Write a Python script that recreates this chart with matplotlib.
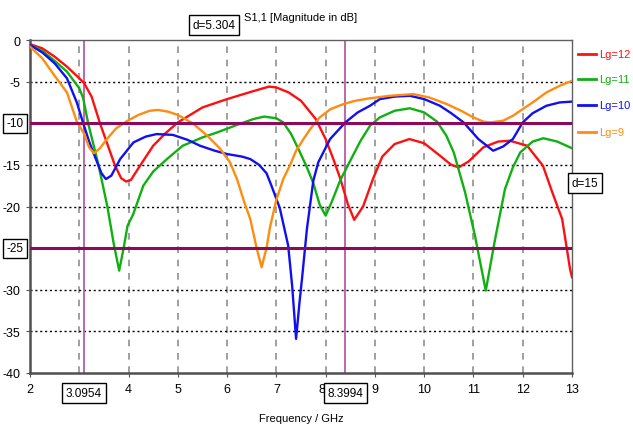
import matplotlib
matplotlib.use('Agg')
import matplotlib.pyplot as plt
from matplotlib.lines import Line2D

plt.rcParams['font.family'] = ['Liberation Sans', 'DejaVu Sans']

# ---- data (frequency in GHz, |S11| in dB) ----
f_lg12 = [2.0, 2.25, 2.5, 2.75, 3.0, 3.1, 3.25, 3.42, 3.6, 3.72, 3.85, 3.95, 4.05, 4.2,
          4.5, 4.75, 5.0, 5.5, 6.0, 6.5, 6.85, 7.0, 7.25, 7.5, 7.8, 8.0, 8.15, 8.3, 8.45,
          8.58, 8.76, 8.96, 9.15, 9.4, 9.7, 10.0, 10.3, 10.55, 10.7, 10.9, 11.2, 11.5,
          11.74, 12.09, 12.41, 12.6, 12.8, 12.96, 13.0]
s_lg12 = [-0.5, -1.0, -2.0, -3.2, -4.6, -5.2, -6.8, -10.0, -13.0, -15.0, -16.6, -17.0,
          -16.8, -15.4, -12.7, -11.2, -9.9, -8.1, -7.1, -6.2, -5.6, -5.7, -6.3, -7.3,
          -9.5, -11.9, -14.2, -16.7, -19.7, -21.6, -20.0, -16.7, -14.0, -12.5, -11.9,
          -12.4, -13.8, -15.0, -15.3, -14.6, -12.9, -12.2, -12.1, -12.7, -15.1, -18.3,
          -21.5, -27.5, -28.5]

f_lg11 = [2.0, 2.25, 2.5, 2.75, 3.0, 3.08, 3.18, 3.39, 3.57, 3.7, 3.81, 3.9, 3.98, 4.09,
          4.3, 4.5, 4.78, 5.1, 5.5, 5.8, 6.2, 6.53, 6.75, 7.0, 7.14, 7.3, 7.48, 7.62,
          7.75, 7.88, 8.0, 8.12, 8.3, 8.5, 8.7, 8.9, 9.1, 9.4, 9.71, 10.0, 10.26, 10.45,
          10.6, 10.83, 11.03, 11.25, 11.44, 11.64, 11.8, 11.95, 12.2, 12.42, 12.7, 13.0]
s_lg11 = [-0.6, -1.3, -2.5, -3.8, -5.8, -7.0, -10.0, -15.0, -20.0, -24.5, -27.7, -25.0,
          -22.3, -21.0, -17.5, -15.8, -14.3, -12.7, -11.7, -11.1, -10.2, -9.5, -9.2,
          -9.4, -9.9, -11.3, -13.5, -15.3, -17.2, -19.8, -21.1, -19.5, -16.8, -14.5,
          -12.2, -10.3, -9.3, -8.5, -8.2, -8.7, -9.8, -11.5, -13.5, -18.3, -23.5, -30.1,
          -23.9, -17.9, -15.3, -13.5, -12.2, -11.8, -12.2, -13.0]

f_lg10 = [2.0, 2.25, 2.5, 2.75, 2.95, 3.08, 3.2, 3.35, 3.45, 3.54, 3.65, 3.83, 4.1,
          4.35, 4.57, 4.9, 5.2, 5.45, 5.75, 6.0, 6.3, 6.47, 6.65, 6.8, 6.9, 7.07, 7.24,
          7.32, 7.4, 7.47, 7.52, 7.62, 7.75, 7.85, 8.09, 8.4, 8.65, 8.9, 9.1, 9.4, 9.71,
          10.0, 10.32, 10.55, 10.8, 11.1, 11.4, 11.6, 11.8, 12.0, 12.2, 12.48, 12.75, 13.0]
s_lg10 = [-0.6, -1.5, -2.8, -4.6, -7.5, -10.0, -12.2, -14.5, -16.0, -16.7, -16.3, -14.3,
          -12.3, -11.6, -11.3, -11.4, -12.0, -12.7, -13.3, -13.7, -14.0, -14.3, -15.0,
          -16.0, -17.5, -20.2, -24.7, -29.5, -35.9, -31.5, -28.7, -22.7, -16.9, -14.7,
          -11.9, -9.9, -8.7, -7.9, -7.1, -6.8, -6.7, -7.1, -7.9, -8.8, -9.9, -11.9,
          -13.3, -12.8, -11.9, -9.9, -8.8, -7.9, -7.5, -7.4]

f_lg9 = [2.0, 2.25, 2.5, 2.75, 2.95, 3.1, 3.2, 3.3, 3.42, 3.56, 3.75, 3.98, 4.2, 4.43,
         4.6, 4.8, 5.0, 5.3, 5.6, 5.85, 6.06, 6.2, 6.35, 6.47, 6.6, 6.7, 6.8, 6.87, 7.0,
         7.14, 7.28, 7.4, 7.55, 7.7, 7.88, 8.1, 8.36, 8.6, 8.9, 9.3, 9.78, 10.1, 10.46,
         10.75, 11.0, 11.2, 11.34, 11.6, 11.8, 12.0, 12.25, 12.48, 12.75, 13.0]
s_lg9 = [-0.8, -2.2, -4.3, -6.3, -9.8, -11.3, -12.9, -13.6, -13.0, -11.9, -10.6, -9.7,
         -9.0, -8.5, -8.4, -8.6, -9.0, -10.0, -11.5, -13.0, -14.7, -16.7, -19.5, -21.5,
         -25.0, -27.3, -25.0, -22.5, -19.2, -16.7, -15.0, -13.3, -11.9, -10.6, -9.3,
         -8.3, -7.7, -7.3, -7.0, -6.7, -6.5, -6.9, -7.7, -8.5, -9.3, -9.8, -9.9, -9.7,
         -9.1, -8.3, -7.3, -6.3, -5.5, -4.9]

labels = ['Lg=12', 'Lg=11', 'Lg=10', 'Lg=9']
colors = ['#ff1010', '#10b010', '#1010f0', '#ff8c10']

# markers (horizontal levels / vertical frequencies)
h_levels = [-10, -25]
v_freqs = [3.0954, 8.3994]

x_ticks = [2, 4, 5, 6, 7, 8, 9, 10, 11, 12, 13]
y_ticks = [0, -5, -15, -20, -30, -35, -40]

FS = 8.5

fig = plt.figure(figsize=(6.33, 4.27), dpi=100)
ax = fig.add_axes([30 / 633, 1 - 374 / 427, 542 / 633, 333 / 427])

ax.set_xlim(2, 13)
ax.set_ylim(-40, 0)

# grid
for xv in range(3, 13):
    ax.axvline(xv, color='#909090', ls=(0, (4, 4)), lw=1.2, zorder=1)
for yv in [-5, -15, -20, -30, -35]:
    ax.axhline(yv, color='black', ls=(0, (1.5, 2)), lw=1.0, zorder=1)

for fv in v_freqs:
    ax.axvline(fv, color='#b55ca8', lw=1.3, zorder=2)

series = [(f_lg12, s_lg12), (f_lg11, s_lg11), (f_lg10, s_lg10), (f_lg9, s_lg9)]
for (fx, sy), c, lab in zip(series, colors, labels):
    ax.plot(fx, sy, color=c, lw=1.7, label=lab, zorder=3, solid_joinstyle='round')

for hv in h_levels:
    ax.axhline(hv, color='#8c0a5c', lw=2.2, zorder=4)

ax.set_xticks(x_ticks)
ax.set_yticks(y_ticks)
ax.set_xticklabels([str(t) for t in x_ticks], fontsize=9)
ax.set_yticklabels([str(t) for t in y_ticks], fontsize=9)
ax.tick_params(direction='out', length=3, color='#555555', pad=4)
# keep the "8" clear of the boxed 8.3994 next to it
ax.get_xticklabels()[5].set_horizontalalignment('right')

for side in ['left', 'bottom']:
    ax.spines[side].set_color('#505050')
    ax.spines[side].set_linewidth(1.8)
for side in ['top', 'right']:
    ax.spines[side].set_color('#606060')
    ax.spines[side].set_linewidth(1.0)

box = dict(boxstyle='square,pad=0.3', fc='white', ec='black', lw=1.0)

# boxed marker values
ax.text(-0.012, -10, '-10', transform=ax.get_yaxis_transform(), ha='right', va='center',
        fontsize=FS, bbox=box)
ax.text(-0.012, -25, '-25', transform=ax.get_yaxis_transform(), ha='right', va='center',
        fontsize=FS, bbox=box)
for fv in v_freqs:
    ax.text(fv, -0.06, '%.4f' % fv, transform=ax.get_xaxis_transform(), ha='center',
            va='center', fontsize=FS, bbox=box)

fig.text(214 / 633, 1 - 26 / 427, 'd=5.304', ha='center', va='center', fontsize=FS, bbox=box)
fig.text(585 / 633, 1 - 184 / 427, 'd=15', ha='center', va='center', fontsize=FS, bbox=box)

fig.text(301 / 633, 1 - 18 / 427, 'S1,1 [Magnitude in dB]', ha='center', va='center',
         fontsize=8)
fig.text(301 / 633, 1 - 419 / 427, 'Frequency / GHz', ha='center', va='center', fontsize=8)

# legend on the right
leg_y = [55, 80, 106, 133]
for lab, c, yp in zip(labels, colors, leg_y):
    yy = 1 - yp / 427
    fig.add_artist(Line2D([578 / 633, 596 / 633], [yy, yy], color=c, lw=2,
                          transform=fig.transFigure))
    fig.text(599 / 633, yy, lab, color=c, ha='left', va='center', fontsize=8)

fig.savefig('out.png', dpi=100)
